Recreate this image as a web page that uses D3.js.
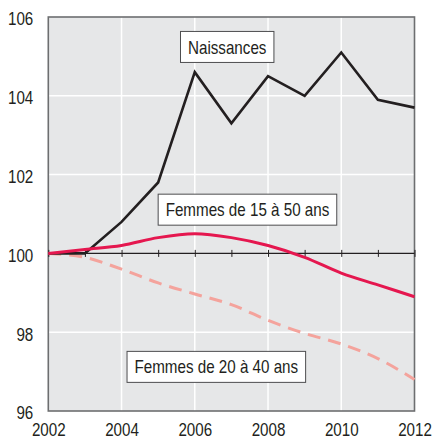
<!DOCTYPE html>
<html><head><meta charset="utf-8">
<script src="https://cdn.jsdelivr.net/npm/d3@7"></script>
<style>html,body{margin:0;padding:0;background:#fff;}svg{display:block;}</style>
</head><body>
<svg id="c" width="432" height="439"></svg>
<script>
const years = [2002,2003,2004,2005,2006,2007,2008,2009,2010,2011,2012];
const naissances = [100,100.0,100.8,101.8,104.6,103.3,104.5,104.0,105.1,103.9,103.7];
const femmes1550 = [100,100.1,100.2,100.4,100.5,100.4,100.2,99.9,99.5,99.2,98.9];
const femmes2040 = [100,99.9,99.6,99.25,98.97,98.7,98.3,97.97,97.7,97.33,96.8];
const yTicks = [96,98,100,102,104,106];
const xTicks = [2002,2004,2006,2008,2010,2012];
// label anchors: left edge of box (year), vertical centre (index value)
const labels = [
  {text:"Naissances", x:2005.61, y:105.24},
  {text:"Femmes de 15 à 50 ans", x:2005.0, y:101.11},
  {text:"Femmes de 20 à 40 ans", x:2004.15, y:97.12}
];

const svg = d3.select("#c");
const L=48.3, R=414.5, T=17, B=411;
const x = d3.scaleLinear().domain([2002,2012]).range([L,R]);
const y = d3.scaleLinear().domain([96,106]).range([B,T]);
const font = "'Liberation Sans', Arial, sans-serif";
const fs = 18.5;
const squeeze = 0.82; // condensed look
const ink = "#231f20";
function condense(sel){
  sel.each(function(){
    const w = this.getComputedTextLength();
    d3.select(this).attr("textLength", w*squeeze).attr("lengthAdjust","spacingAndGlyphs");
  });
}

svg.append("rect").attr("x",L).attr("y",T).attr("width",R-L).attr("height",B-T).attr("fill","#e6e7e8");
// grid
svg.append("g").selectAll("line").data(xTicks.slice(1,-1)).join("line")
  .attr("x1",d=>x(d)).attr("x2",d=>x(d)).attr("y1",T).attr("y2",B)
  .attr("stroke","#fff").attr("stroke-width",1.5);
svg.append("g").selectAll("line").data([98,102,104]).join("line")
  .attr("x1",L).attr("x2",R).attr("y1",d=>y(d)).attr("y2",d=>y(d))
  .attr("stroke","#fff").attr("stroke-width",1.5);
// frame
svg.append("rect").attr("x",L).attr("y",T).attr("width",R-L).attr("height",B-T)
  .attr("fill","none").attr("stroke","#6d6e70").attr("stroke-width",1.6);
// base line at 100 with ticks
const axis = d3.axisBottom(x).tickValues(years).tickSize(7).tickFormat("");
const ag = svg.append("g").attr("transform",`translate(0,${y(100)})`).call(axis);
ag.select(".domain").remove();
ag.selectAll(".tick line").attr("y1",-3.5).attr("y2",3.5).attr("stroke",ink).attr("stroke-width",1);
svg.append("line").attr("x1",L).attr("x2",R).attr("y1",y(100)).attr("y2",y(100))
  .attr("stroke",ink).attr("stroke-width",1.3);

// y tick labels
const ya = d3.axisLeft(y).tickValues(yTicks).tickSize(0).tickPadding(15).tickFormat(d3.format("d"));
const yg = svg.append("g").attr("transform",`translate(${L},0)`).call(ya);
yg.select(".domain").remove();
yg.selectAll("text").attr("font-family",font).attr("font-size",fs).attr("fill",ink).attr("dy","0.43em").call(condense);
// x tick labels
const xa = d3.axisBottom(x).tickValues(xTicks).tickSize(0).tickPadding(12).tickFormat(d3.format("d"));
const xg = svg.append("g").attr("transform",`translate(0,${B})`).call(xa);
xg.select(".domain").remove();
xg.selectAll("text").attr("font-family",font).attr("font-size",fs).attr("fill",ink).call(condense);

const line = d3.line().x((d,i)=>x(years[i])).y(d=>y(d));
const smooth = d3.line().x((d,i)=>x(years[i])).y(d=>y(d)).curve(d3.curveMonotoneX);

svg.append("path").datum(femmes2040).attr("d",smooth).attr("fill","none")
  .attr("stroke","#f4a39c").attr("stroke-width",3).attr("stroke-dasharray","13,8");
svg.append("path").datum(naissances).attr("d",line).attr("fill","none")
  .attr("stroke",ink).attr("stroke-width",2.6).attr("stroke-linejoin","miter");
svg.append("path").datum(femmes1550).attr("d",smooth).attr("fill","none")
  .attr("stroke","#e5174f").attr("stroke-width",3);

// labels
labels.forEach(l=>{
  const g = svg.append("g");
  const bx = x(l.x), cy = y(l.y);
  const t = g.append("text").attr("x",bx+7.5).attr("y",cy+6.6).attr("font-family",font)
    .attr("font-size",fs).attr("fill",ink).text(l.text);
  const w = t.node().getComputedTextLength()*squeeze;
  t.attr("textLength",w).attr("lengthAdjust","spacingAndGlyphs");
  g.insert("rect","text").attr("x",bx).attr("y",cy-15.5).attr("width",w+15).attr("height",31)
    .attr("fill","#fff").attr("stroke","#4d4d4f").attr("stroke-width",1);
});
</script>
</body></html>
